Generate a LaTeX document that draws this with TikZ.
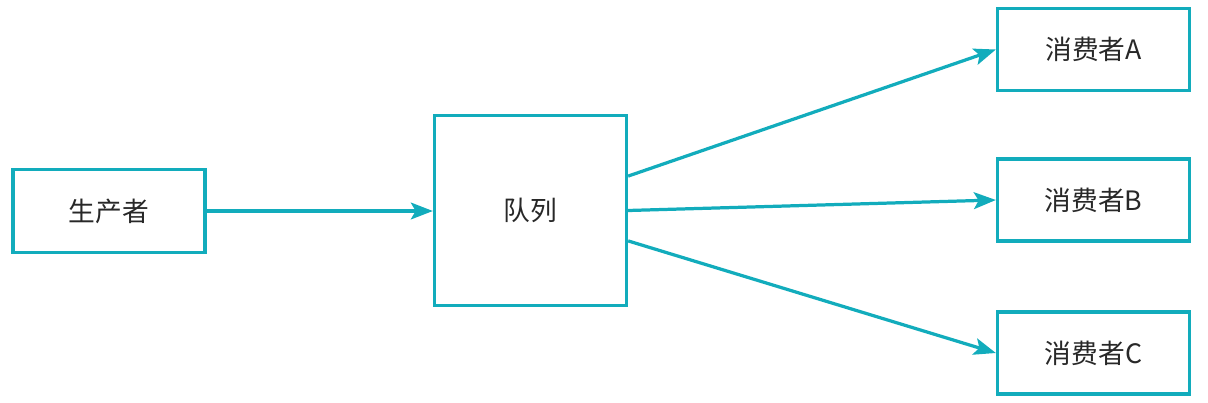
\documentclass[tikz,border=0pt]{standalone}
\usepackage{fontspec}
\setmainfont{Open Sans}
\newfontfamily\cjk{Noto Sans CJK SC}
\usetikzlibrary{arrows.meta}
\definecolor{qteal}{RGB}{18,172,188}
\definecolor{qtext}{RGB}{40,40,40}
\begin{document}
\begin{tikzpicture}[
        x=0.025cm, y=-0.025cm,
        box/.style={rectangle, draw=qteal, line width=2.3pt, fill=white, text=qtext,
                    font=\cjk\fontsize{19}{22}\selectfont, inner sep=0pt},
        flow/.style={qteal, line width=2.3pt, -{Stealth[length=5.5mm, width=4.2mm, inset=1.2mm]}}
    ]
        \useasboundingbox (0,0) rectangle (1208,402);

        % producer and queue
        \node[box, minimum width=4.8cm, minimum height=2.07cm] (prod) at (109,211) {生产者};
        \node[box, minimum width=4.8cm, minimum height=4.74cm] (queue) at (530.5,210.5) {队列};

        % consumers
        \node[box, minimum width=4.8cm, minimum height=2.05cm] (consA) at (1093.5,49.5) {消费者A};
        \node[box, minimum width=4.8cm, minimum height=2.05cm] (consB) at (1093.5,200) {消费者B};
        \node[box, minimum width=4.8cm, minimum height=2.05cm] (consC) at (1093.5,353) {消费者C};

        % arrows
        \draw[flow] (prod.east) -- (prod.east -| queue.west);
        \draw[flow] ([yshift=0.86cm]queue.east) -- (consA.west);
        \draw[flow] (queue.east) -- (consB.west);
        \draw[flow] ([yshift=-0.76cm]queue.east) -- (consC.west);
    \end{tikzpicture}
\end{document}
